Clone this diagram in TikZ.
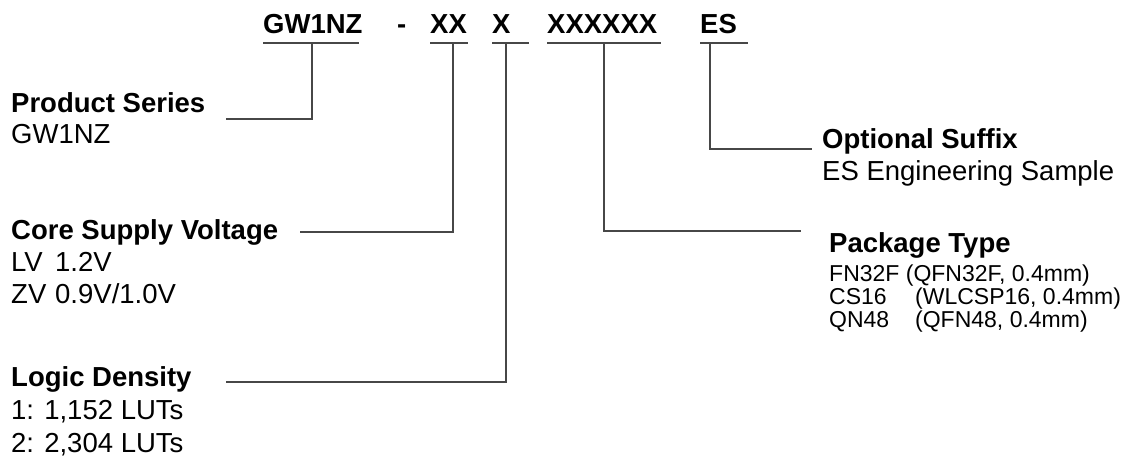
\documentclass[tikz,border=0pt]{standalone}
\usepackage{fontspec}
\setmainfont{Liberation Sans}
\begin{document}
\begin{tikzpicture}[x=1pt,y=-1pt,
  conn/.style={draw=black!72, line width=1.4pt},
  head/.style={inner sep=0pt, anchor=base west, font=\fontsize{27.5}{30}\selectfont\bfseries},
  body/.style={inner sep=0pt, anchor=base west, font=\fontsize{27.5}{30}\selectfont},
  small/.style={inner sep=0pt, anchor=base west, font=\fontsize{23}{26}\selectfont},
  code/.style={inner sep=0pt, anchor=base west, font=\fontsize{27.5}{30}\selectfont\bfseries}]
\useasboundingbox (0,0) rectangle (1128,461);
% part number
\node[code] (t1) at (263,33) {GW1NZ};
\node[code] (td) at (397,33) {-};
\node[code] (t2) at (430,33) {XX};
\node[code] (t3) at (492,33) {X};
\node[code] (t4) at (547,33) {XXXXXX};
\node[code] (t5) at (700,33) {ES};
% underlines
\draw[conn] (263,43) -- (359,43);
\draw[conn] (430,43) -- (468,43);
\draw[conn] (492,43) -- (529,43);
\draw[conn] (547,43) -- (661,43);
\draw[conn] (700,43) -- (748,43);
% labels
\node[head] (ps) at (11,112) {Product Series};
\node[body] (psv) at (11,143) {GW1NZ};
\node[head] (cs) at (11,239) {Core Supply Voltage};
\node[body] (cs1) at (11,271) {\makebox[44pt][l]{LV}1.2V};
\node[body] (cs2) at (11,303) {\makebox[44pt][l]{ZV}0.9V/1.0V};
\node[head] (ld) at (11,386) {Logic Density};
\node[body] (ld1) at (11,419) {1: 1,152 LUTs};
\node[body] (ld2) at (11,452) {2: 2,304 LUTs};
\node[head] (os) at (822,148) {Optional Suffix};
\node[body] (os1) at (822,180) {ES Engineering Sample};
\node[head] (pt) at (829,252) {Package Type};
\node[small] (pt1) at (829,281) {FN32F (QFN32F, 0.4mm)};
\node[small] (pt2) at (829,304) {\makebox[86pt][l]{CS16}(WLCSP16, 0.4mm)};
\node[small] (pt3) at (829,327) {\makebox[86pt][l]{QN48}(QFN48, 0.4mm)};
% connectors
\coordinate (j1) at (312,43);
\coordinate (e1) at (226,119);
\coordinate (j2) at (453,43);
\coordinate (e2) at (300,232);
\coordinate (j3) at (506,43);
\coordinate (e3) at (226,382);
\coordinate (j4) at (604,43);
\coordinate (e4) at (801,231);
\coordinate (j5) at (710,43);
\coordinate (e5) at (812,149);
\draw[conn] (j1) |- (e1);
\draw[conn] (j2) |- (e2);
\draw[conn] (j3) |- (e3);
\draw[conn] (j4) |- (e4);
\draw[conn] (j5) |- (e5);
\end{tikzpicture}
\end{document}
